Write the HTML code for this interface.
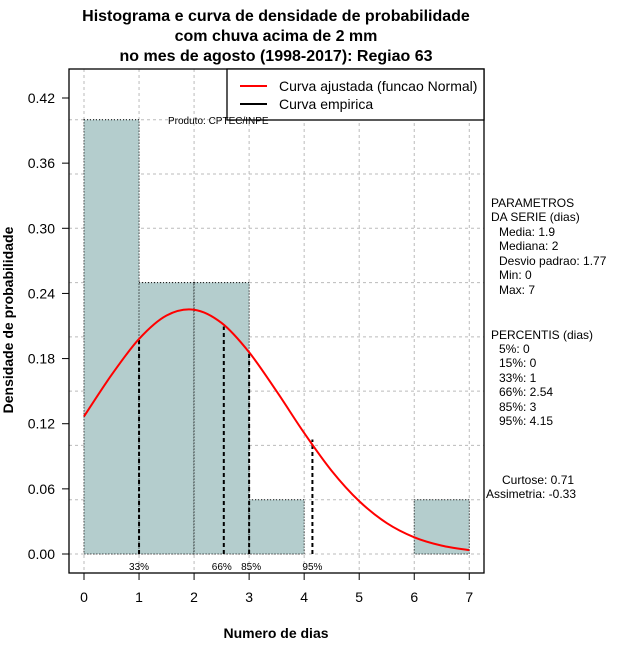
<!DOCTYPE html>
<html><head><meta charset="utf-8"><style>
body{margin:0;background:#fff}
svg{display:block;font-family:"Liberation Sans",sans-serif}
</style></head><body>
<svg id="chart" width="640" height="660" viewBox="0 0 640 660">
<g font-weight="bold" font-size="16" text-anchor="middle">
<text x="276" y="21">Histograma e curva de densidade de probabilidade</text>
<text x="276" y="41">com chuva acima de 2 mm</text>
<text x="276" y="61">no mes de agosto (1998-2017): Regiao 63</text>
</g>
<g id="grid"></g>
<g id="bars"></g>
<g id="pct"></g>
<path id="curve" fill="none" stroke="#f00" stroke-width="2"/>
<rect x="69" y="69" width="415" height="504" fill="none" stroke="#000" stroke-width="1.3"/>
<g>
<rect x="227" y="69" width="257" height="51" fill="#fff" stroke="#000" stroke-width="1.3"/>
<line x1="240" y1="86" x2="267" y2="86" stroke="#f00" stroke-width="2"/>
<text x="279" y="91" font-size="14">Curva ajustada (funcao Normal)</text>
<line x1="240" y1="104" x2="267" y2="104" stroke="#000" stroke-width="2"/>
<text x="279" y="109" font-size="14">Curva empirica</text>
</g>
<text x="168" y="124" font-size="10">Produto: CPTEC/INPE</text>
<g id="xaxis" font-size="14" text-anchor="middle"></g>
<g id="yaxis" font-size="14" text-anchor="end"></g>
<text x="276" y="638" font-size="14" font-weight="bold" text-anchor="middle">Numero de dias</text>
<text transform="translate(13,320) rotate(-90)" font-size="14" font-weight="bold" text-anchor="middle">Densidade de probabilidade</text>
<g font-size="12">
<text x="491" y="207">PARAMETROS</text>
<text x="491" y="221">DA SERIE (dias)</text>
<text x="499" y="236">Media: 1.9</text>
<text x="499" y="250">Mediana: 2</text>
<text x="499" y="265">Desvio padrao: 1.77</text>
<text x="499" y="279">Min: 0</text>
<text x="499" y="294">Max: 7</text>
<text x="491" y="339">PERCENTIS (dias)</text>
<text x="499" y="353">5%: 0</text>
<text x="499" y="367">15%: 0</text>
<text x="499" y="382">33%: 1</text>
<text x="499" y="396">66%: 2.54</text>
<text x="499" y="411">85%: 3</text>
<text x="499" y="425">95%: 4.15</text>
<text x="502" y="484">Curtose: 0.71</text>
<text x="486" y="498">Assimetria: -0.33</text>
</g>
</svg>
<script>
const binStarts=[0,1,2,3,4,5,6];
const binDensity=[0.40,0.25,0.25,0.05,0,0,0.05];
const curveX=[0,0.5,1,1.5,2,2.5,3,3.5,4,4.5,5,5.5,6,6.5,7];
const curveY=[0.1267,0.1649,0.1981,0.2197,0.2250,0.2128,0.1858,0.1498,0.1115,0.0766,0.0487,0.0285,0.0154,0.0077,0.0035];
const pctValues=[1,2.54,3,4.15];
const pctLabels=["33%","66%","85%","95%"];
const pctHeights=[0.1981,0.2095,0.1858,0.1055];
const xTicks=[0,1,2,3,4,5,6,7];
const yTicks=[0,0.06,0.12,0.18,0.24,0.30,0.36,0.42];
const yGrid=[0,0.05,0.10,0.15,0.20,0.25,0.30,0.35,0.40];
const NS='http://www.w3.org/2000/svg';
const X=v=>84+v*55.04;
const Y=v=>554-v*1085.7;
function mk(tag,attrs,parent){const e=document.createElementNS(NS,tag);for(const k in attrs)e.setAttribute(k,attrs[k]);parent.appendChild(e);return e;}
const grid=document.getElementById('grid');
xTicks.forEach(t=>{const l=mk('line',{x1:X(t),x2:X(t),y1:69,y2:573,stroke:'#bbb','stroke-dasharray':'3,3'},grid);

});
yGrid.forEach(t=>{const l=mk('line',{x1:69,x2:484,y1:Y(t),y2:Y(t),stroke:'#bbb','stroke-dasharray':'3,3'},grid);

});
const bars=document.getElementById('bars');
binStarts.forEach((s,i)=>{const d=binDensity[i];
const r=mk('rect',{x:X(s),y:Y(d),width:X(s+1)-X(s),height:Y(0)-Y(d),fill:d>0?'#b4cdcd':'none',stroke:'#000','stroke-width':1,'stroke-dasharray':'1,2'},bars);

});
const pct=document.getElementById('pct');
pctValues.forEach((v,i)=>{const l=mk('line',{x1:X(v),x2:X(v),y1:Y(0),y2:Y(pctHeights[i]),stroke:'#000','stroke-width':2,'stroke-dasharray':'4,3'},pct);

});
const labelPos=[X(1),X(2.54)-2,X(3)+2,X(4.15)];
pctLabels.forEach((t,i)=>{const e=mk('text',{x:labelPos[i],y:570,'font-size':10,'text-anchor':'middle'},pct);e.textContent=t;

});
// smooth curve (Catmull-Rom)
const pts=curveX.map((x,i)=>[X(x),Y(curveY[i])]);
let d='M'+pts[0][0]+','+pts[0][1];
for(let i=0;i<pts.length-1;i++){const p0=pts[i-1]||pts[i],p1=pts[i],p2=pts[i+1],p3=pts[i+2]||p2;
d+=' C'+(p1[0]+(p2[0]-p0[0])/6)+','+(p1[1]+(p2[1]-p0[1])/6)+' '+(p2[0]-(p3[0]-p1[0])/6)+','+(p2[1]-(p3[1]-p1[1])/6)+' '+p2[0]+','+p2[1];}
document.getElementById('curve').setAttribute('d',d);
const xa=document.getElementById('xaxis');
mk('line',{x1:X(0),x2:X(7),y1:573,y2:573,stroke:'#000'},xa);
xTicks.forEach(t=>{mk('line',{x1:X(t),x2:X(t),y1:573,y2:580,stroke:'#000'},xa);
const e=mk('text',{x:X(t),y:602},xa);e.textContent=t;

});
const ya=document.getElementById('yaxis');
yTicks.forEach(t=>{mk('line',{x1:62,x2:69,y1:Y(t),y2:Y(t),stroke:'#000'},ya);
const e=mk('text',{x:55,y:Y(t)+5},ya);e.textContent=t.toFixed(2);

});
</script>
</body></html>
